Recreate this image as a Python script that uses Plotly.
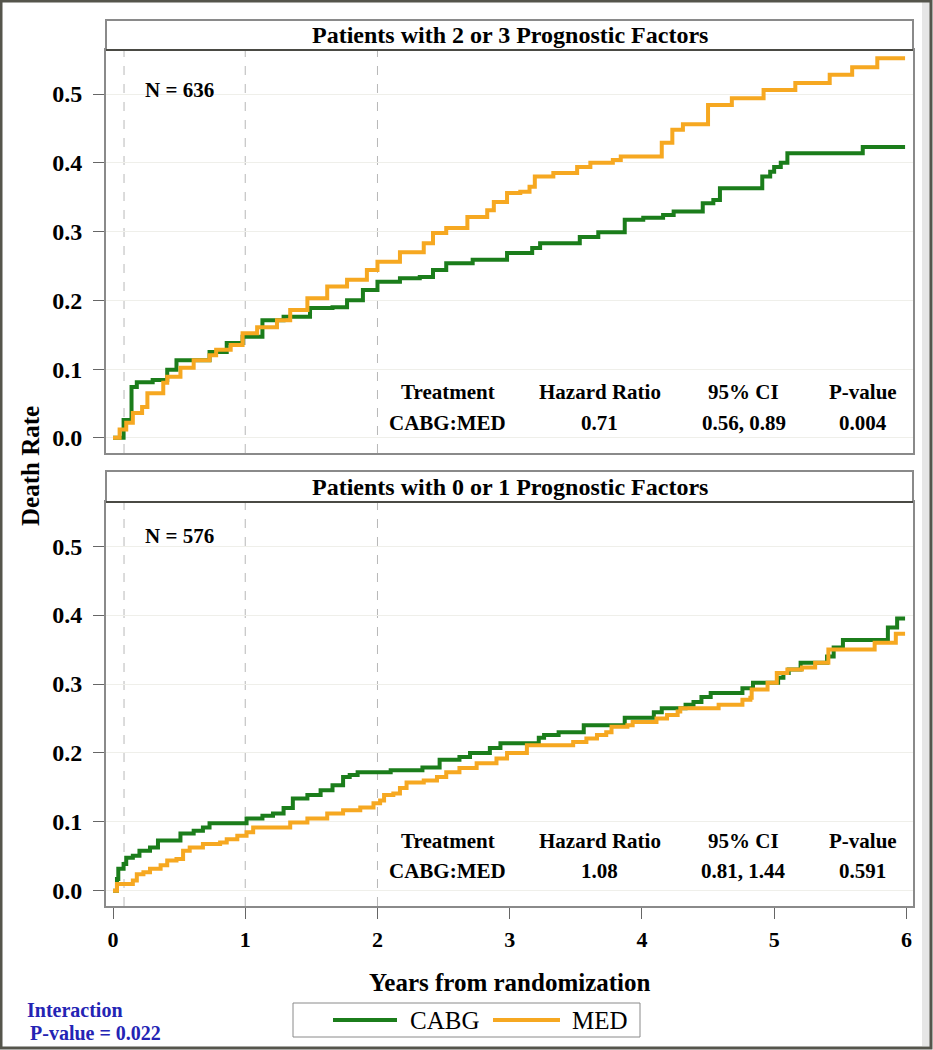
import plotly.graph_objects as go

# ---------------- data ----------------
top_cabg_t = [0.0, 0.015, 0.08, 0.14, 0.18, 0.30, 0.41, 0.48, 0.58, 0.73, 0.86, 0.98, 1.13, 1.29, 1.49, 1.66, 1.77,
              1.89, 2.0, 2.17, 2.32, 2.42, 2.52, 2.72, 2.98, 3.17, 3.23, 3.53, 3.67, 3.87, 4.01, 4.16, 4.24, 4.46,
              4.54, 4.59, 4.91, 4.97, 5.0, 5.05, 5.1, 5.67, 5.99]
top_cabg_y = [0.0, 0.0, 0.026, 0.074, 0.081, 0.084, 0.099, 0.113, 0.113, 0.125, 0.138, 0.147, 0.171, 0.176, 0.189,
              0.19, 0.2, 0.215, 0.227, 0.232, 0.234, 0.244, 0.254, 0.259, 0.269, 0.276, 0.283, 0.292, 0.299, 0.317,
              0.32, 0.324, 0.329, 0.341, 0.346, 0.363, 0.38, 0.387, 0.394, 0.4, 0.414, 0.423, 0.423]

top_med_t = [0.0, 0.015, 0.05, 0.10, 0.15, 0.22, 0.26, 0.38, 0.41, 0.51, 0.61, 0.73, 0.78, 0.89, 0.98, 1.09, 1.24,
             1.34, 1.47, 1.62, 1.77, 1.92, 2.0, 2.17, 2.35, 2.42, 2.52, 2.68, 2.83, 2.88, 2.98, 3.08, 3.15, 3.19,
             3.33, 3.51, 3.61, 3.78, 3.84, 4.15, 4.23, 4.31, 4.5, 4.68, 4.92, 5.16, 5.42, 5.59, 5.78, 5.99]
top_med_y = [0.0, 0.0, 0.012, 0.022, 0.036, 0.045, 0.065, 0.08, 0.089, 0.102, 0.113, 0.12, 0.128, 0.135, 0.152,
             0.161, 0.171, 0.186, 0.203, 0.22, 0.23, 0.244, 0.256, 0.27, 0.283, 0.298, 0.305, 0.321, 0.331, 0.343,
             0.356, 0.358, 0.365, 0.38, 0.385, 0.394, 0.4, 0.404, 0.409, 0.429, 0.448, 0.456, 0.484, 0.494, 0.506,
             0.516, 0.528, 0.539, 0.552, 0.552]

bot_cabg_t = [0.0, 0.015, 0.03, 0.04, 0.08, 0.10, 0.15, 0.20, 0.28, 0.34, 0.51, 0.61, 0.68, 0.73, 1.01, 1.13, 1.21,
              1.29, 1.36, 1.47, 1.57, 1.66, 1.74, 1.79, 1.85, 2.1, 2.34, 2.47, 2.62, 2.7, 2.85, 2.93, 3.22, 3.26,
              3.37, 3.56, 3.87, 4.09, 4.15, 4.33, 4.39, 4.45, 4.52, 4.76, 4.84, 5.03, 5.07, 5.11, 5.2, 5.4, 5.45,
              5.52, 5.86, 5.93, 5.99]
bot_cabg_y = [0.0, 0.0, 0.017, 0.032, 0.039, 0.048, 0.051, 0.058, 0.063, 0.073, 0.083, 0.087, 0.092, 0.098, 0.105,
              0.109, 0.112, 0.12, 0.134, 0.139, 0.146, 0.153, 0.165, 0.168, 0.172, 0.175, 0.179, 0.19, 0.194, 0.2,
              0.207, 0.214, 0.222, 0.226, 0.23, 0.24, 0.251, 0.259, 0.265, 0.27, 0.274, 0.281, 0.287, 0.294, 0.302,
              0.309, 0.316, 0.321, 0.331, 0.34, 0.353, 0.364, 0.382, 0.395, 0.395]

bot_med_t = [0.0, 0.015, 0.03, 0.15, 0.18, 0.23, 0.28, 0.36, 0.41, 0.48, 0.53, 0.58, 0.68, 0.81, 0.86, 0.94, 1.01,
             1.06, 1.34, 1.47, 1.62, 1.74, 1.87, 1.97, 2.02, 2.05, 2.12, 2.17, 2.22, 2.35, 2.45, 2.52, 2.62, 2.75,
             2.9, 2.98, 3.13, 3.48, 3.58, 3.66, 3.73, 3.77, 3.89, 3.93, 4.11, 4.19, 4.27, 4.29, 4.58, 4.76, 4.82,
             4.83, 4.95, 5.02, 5.1, 5.21, 5.31, 5.41, 5.76, 5.92, 5.99]
bot_med_y = [0.0, 0.0, 0.01, 0.015, 0.024, 0.027, 0.032, 0.037, 0.044, 0.046, 0.058, 0.063, 0.068, 0.07, 0.075,
             0.08, 0.085, 0.092, 0.099, 0.105, 0.112, 0.117, 0.121, 0.127, 0.131, 0.139, 0.141, 0.149, 0.157, 0.16,
             0.165, 0.172, 0.178, 0.185, 0.192, 0.2, 0.211, 0.216, 0.221, 0.226, 0.23, 0.238, 0.24, 0.245, 0.25,
             0.255, 0.26, 0.265, 0.27, 0.277, 0.28, 0.292, 0.302, 0.316, 0.321, 0.324, 0.331, 0.35, 0.36, 0.373,
             0.373]

panel_titles = ["Patients with 2 or 3 Prognostic Factors", "Patients with 0 or 1 Prognostic Factors"]
panel_n = ["N = 636", "N = 576"]
table_header = ["Treatment", "Hazard Ratio", "95% CI", "P-value"]
table_rows = [["CABG:MED", "0.71", "0.56, 0.89", "0.004"],
              ["CABG:MED", "1.08", "0.81, 1.44", "0.591"]]
series_names = ["CABG", "MED"]
x_ticks = [0, 1, 2, 3, 4, 5, 6]
y_ticks = [0.0, 0.1, 0.2, 0.3, 0.4, 0.5]
ref_lines = [1 / 12, 1, 2]

# ---------------- style ----------------
GREEN = "#1b7d1b"
ORANGE = "#f6a821"
FONT = "Liberation Serif"
W, H = 933, 1050
ML, MR, MT, MB = 106, 20, 20, 144
PW, PH = W - ML - MR, H - MT - MB


def px(xp):
    return (xp - ML) / PW


def py(yp):
    return (H - MB - yp) / PH


top_dom = [py(453), py(50)]
bot_dom = [py(906), py(502)]

fig = go.Figure()
series = [
    (top_cabg_t, top_cabg_y, series_names[0], GREEN, "x", "y"),
    (top_med_t, top_med_y, series_names[1], ORANGE, "x", "y"),
    (bot_cabg_t, bot_cabg_y, series_names[0], GREEN, "x2", "y2"),
    (bot_med_t, bot_med_y, series_names[1], ORANGE, "x2", "y2"),
]
for t, v, name, col, xa, ya in series:
    fig.add_trace(go.Scatter(x=t, y=v, mode="lines", line=dict(color=col, width=4, shape="hv"),
                             name=name, showlegend=False, xaxis=xa, yaxis=ya))

xr = [-0.053, 6.05]
yr = [-0.022, 0.564]
axis_common = dict(showline=True, linecolor="#8a8a8a", linewidth=2, mirror=True, zeroline=False)
ytick_style = dict(tickvals=y_ticks, tickformat=".1f", ticks="outside", ticklen=11, tickcolor="#666",
                   tickwidth=1, showgrid=True, gridcolor="#efefea", gridwidth=1, ticklabelstandoff=6,
                   tickfont=dict(family=FONT, size=24, color="black", weight="bold"))
fig.update_layout(
    width=W, height=H,
    margin=dict(l=ML, r=MR, t=MT, b=MB),
    plot_bgcolor="white", paper_bgcolor="white",
    font=dict(family=FONT, color="black"),
    showlegend=False,
    xaxis=dict(domain=[0, 1], range=xr, anchor="y", showticklabels=False, ticks="",
               showgrid=False, **axis_common),
    yaxis=dict(domain=top_dom, range=yr, anchor="x", **ytick_style, **axis_common),
    xaxis2=dict(domain=[0, 1], range=xr, anchor="y2", tickvals=x_ticks, ticks="outside", ticklen=11,
                tickcolor="#666", tickwidth=1, showgrid=False, ticklabelstandoff=2,
                tickfont=dict(family=FONT, size=22, color="black", weight="bold"), **axis_common),
    yaxis2=dict(domain=bot_dom, range=yr, anchor="x2", **ytick_style, **axis_common),
)

shapes = []
# reference dashed lines
for xa, ya in [("x", "y"), ("x2", "y2")]:
    for xv in ref_lines:
        shapes.append(dict(type="line", xref=xa, yref=f"{ya} domain", x0=xv, x1=xv, y0=0, y1=1,
                           line=dict(color="#b8b8b8", width=1, dash="dash"), layer="below"))
# panel header boxes
for top_px, bot_px in [(20, 50), (471, 502)]:
    shapes.append(dict(type="rect", xref="paper", yref="paper", x0=0, x1=1, y0=py(bot_px), y1=py(top_px),
                       line=dict(color="#8a8a8a", width=2), fillcolor="white"))
    shapes.append(dict(type="line", xref="paper", yref="paper", x0=0, x1=1, y0=py(bot_px), y1=py(bot_px),
                       line=dict(color="#4a4a44", width=2)))
# outer picture frame
shapes.append(dict(type="line", xref="paper", yref="paper", x0=px(926), x1=px(926), y0=py(1046), y1=py(2),
                   line=dict(color="#e6e6e6", width=8), layer="below"))
shapes.append(dict(type="rect", xref="paper", yref="paper", x0=px(1), x1=px(931), y0=py(1048), y1=py(1),
                   line=dict(color="#55554c", width=3), layer="below"))
# legend box and keys
shapes.append(dict(type="rect", xref="paper", yref="paper", x0=px(293), x1=px(640), y0=py(1037), y1=py(1003),
                   line=dict(color="#8a8a8a", width=1), fillcolor="white"))
for (x0, x1), col in [((333, 397), GREEN), ((493, 560), ORANGE)]:
    shapes.append(dict(type="line", xref="paper", yref="paper", x0=px(x0), x1=px(x1), y0=py(1020), y1=py(1020),
                       line=dict(color=col, width=4)))
fig.update_layout(shapes=shapes)

ann = []
for title, hdr_top, hdr_bot in [(panel_titles[0], 20, 50), (panel_titles[1], 471, 502)]:
    ann.append(dict(text=f"<b>{title}</b>", xref="paper", yref="paper", x=0.5, y=py((hdr_top + hdr_bot) / 2),
                    showarrow=False, xanchor="center", yanchor="middle", font=dict(size=24)))
# N labels
for n_txt, xa, ya, yv in [(panel_n[0], "x", "y", 0.506), (panel_n[1], "x2", "y2", 0.514)]:
    ann.append(dict(text=f"<b>{n_txt}</b>", xref=xa, yref=ya, x=0.5, y=yv, showarrow=False,
                    xanchor="center", yanchor="middle", font=dict(size=21)))
# stats tables
col_x = [2.53, 3.68, 4.77, 5.67]
for xa, ya, rows_y, row in [("x", "y", (0.067, 0.022), table_rows[0]), ("x2", "y2", (0.073, 0.029), table_rows[1])]:
    for cx, h_txt, r_txt in zip(col_x, table_header, row):
        ann.append(dict(text=f"<b>{h_txt}</b>", xref=xa, yref=ya, x=cx, y=rows_y[0], showarrow=False,
                        xanchor="center", yanchor="middle", font=dict(size=21)))
        ann.append(dict(text=f"<b>{r_txt}</b>", xref=xa, yref=ya, x=cx, y=rows_y[1], showarrow=False,
                        xanchor="center", yanchor="middle", font=dict(size=21)))
# axis titles
ann.append(dict(text="<b>Death Rate</b>", xref="paper", yref="paper", x=px(30), y=py(466), textangle=-90,
                xanchor="center", yanchor="middle", showarrow=False, font=dict(size=25)))
ann.append(dict(text="<b>Years from randomization</b>", xref="paper", yref="paper", x=px(510), y=py(983),
                xanchor="center", yanchor="middle", showarrow=False, font=dict(size=25)))
# legend labels
for name, xl in [(series_names[0], 408), (series_names[1], 570)]:
    ann.append(dict(text=name, xref="paper", yref="paper", x=px(xl), y=py(1020), xanchor="left",
                    yanchor="middle", showarrow=False, font=dict(size=25)))
# interaction p-value
ann.append(dict(text="<b>Interaction</b>", xref="paper", yref="paper", x=px(25), y=py(1010), xanchor="left",
                yanchor="middle", showarrow=False, font=dict(size=20, color="#2424b4")))
ann.append(dict(text="<b>P-value = 0.022</b>", xref="paper", yref="paper", x=px(28), y=py(1033),
                xanchor="left", yanchor="middle", showarrow=False, font=dict(size=20, color="#2424b4")))
fig.update_layout(annotations=ann)

fig.write_html("out.html", config={"displayModeBar": False},
               post_script="document.body.style.margin='0px';document.body.style.overflow='hidden';")
